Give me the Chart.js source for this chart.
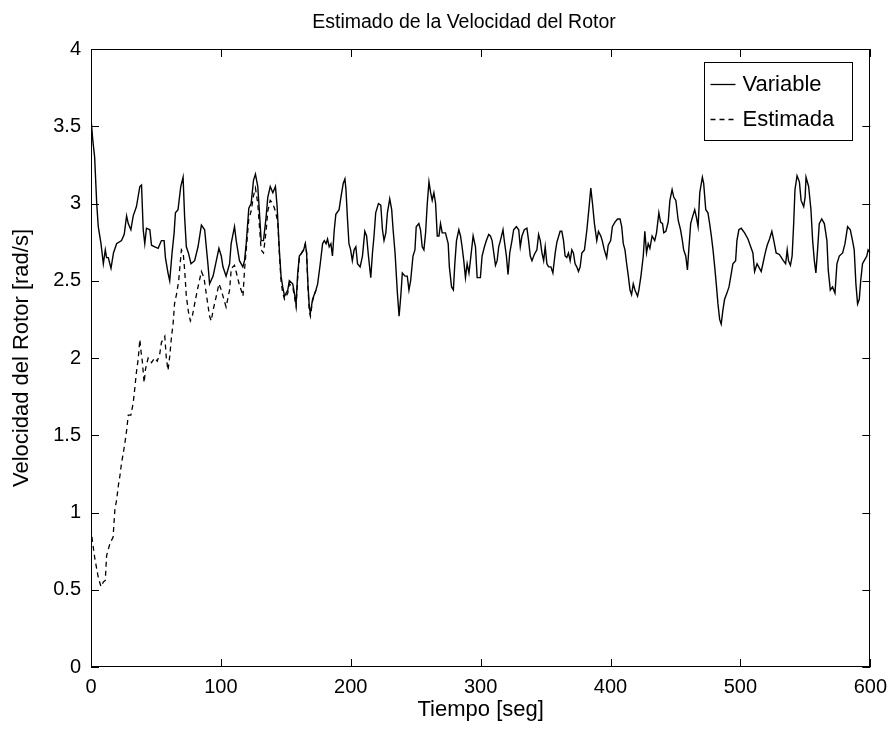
<!DOCTYPE html>
<html>
<head>
<meta charset="utf-8">
<script src="https://cdn.jsdelivr.net/npm/chart.js@4.4.1/dist/chart.umd.min.js"></script>
<style>
  html, body { margin: 0; padding: 0; background: #ffffff; }
  #wrap { width: 895px; height: 735px; }
</style>
</head>
<body>
<div id="wrap"><canvas id="c" width="895" height="735"></canvas></div>
<script>
// ---------- DATA ----------
const chartTitle = 'Estimado de la Velocidad del Rotor';
const xAxisTitle = 'Tiempo [seg]';
const yAxisTitle = 'Velocidad del Rotor [rad/s]';
const seriesNames = ['Variable', 'Estimada'];

const xTicks = [0, 100, 200, 300, 400, 500, 600];
const yTicks = [0, 0.5, 1, 1.5, 2, 2.5, 3, 3.5, 4];

const timeVariable = [
  0, 1.5, 2.8, 4.4, 5.6, 7.7, 9.5, 11, 12, 13.3, 15.4, 17.3, 19.7, 23.5, 25.6, 27.4, 28.7, 30.7, 32.5, 35,
  37.6, 38.9, 40.2, 41.4, 42.7, 45.3, 46.6, 49.1, 51.7, 54.2, 56.3, 57.3, 59.3, 60.6, 62.4, 64, 65, 67, 69.1, 70.9,
  72.1, 73.4, 75, 77, 79.8, 82.4, 85, 87.5, 90, 91.3, 94, 96.5, 98.5, 100.3, 101.6, 104, 106.7, 107.9, 110.5, 111.8,
  114.3, 116.9, 118.2, 119.5, 121.5, 123.3, 125.1, 126.6, 128.4, 129.7, 131, 132.8, 134.8, 136.1, 138, 140, 142, 143.3, 145, 146.3,
  147.6, 149, 151.5, 152.7, 155.3, 156.6, 157.9, 159, 160.4, 162.2, 163.7, 165, 166, 167, 168.1, 168.9, 170.6, 173.2, 174.5, 176.5,
  178.3, 179.6, 181, 182.1, 183.4, 184.7, 185.9, 187.3, 188.5, 191, 192.4, 194.2, 195.5, 196.3, 197.4, 198.6, 199.9, 201.2, 202.6, 203.9,
  205.2, 207.2, 209, 210.8, 212.2, 213.6, 215.4, 216.7, 217.9, 219.2, 221.3, 223.1, 224.4, 225.6, 227, 228.2, 230, 231.5, 232.6, 234.1,
  235.9, 237.2, 238.5, 239.7, 241.8, 243.5, 244.8, 246.1, 247.9, 249.4, 250.4, 252.4, 253.7, 255, 256.3, 257.6, 258.9, 260.2, 261.5, 262.7,
  264, 265.3, 266.6, 267.9, 269.1, 270.4, 272.9, 275, 275.9, 277.6, 279, 280.1, 281.4, 283.2, 284.5, 285.7, 287, 288.3, 289.6, 291,
  292.1, 294.2, 296, 297.3, 299.8, 301.1, 302.9, 304.4, 306.2, 307.5, 308.8, 310.1, 311.4, 312.7, 313.9, 315.2, 317.2, 318.2, 319.8, 321.1,
  322.4, 324.1, 325.4, 327.5, 329.3, 330.5, 331.8, 333.6, 335.6, 336.9, 338.2, 339.5, 341.3, 343.3, 344.6, 345.9, 347.2, 348.5, 349.7, 351,
  352.3, 354.1, 355.6, 357.4, 358.7, 361.2, 362.5, 363.8, 365, 366.3, 367.6, 368.9, 370.2, 371.4, 372.7, 374, 375.3, 376.6, 377.9, 379.9,
  381.8, 383.5, 384.8, 386.1, 387.6, 389.4, 390.7, 392.5, 393.6, 395.2, 397, 398.2, 400.1, 401.4, 403.4, 405.4, 407.3, 408.6, 409.8, 411.1,
  412.4, 413.7, 415, 416.2, 417.5, 418.8, 420.8, 421.8, 423.4, 425.2, 426.4, 427.7, 429, 430.3, 432, 434, 435.4, 437.2, 438.5, 440,
  441, 442.6, 444.4, 445.7, 447.4, 448.7, 450.3, 452.1, 453.9, 455.3, 456.3, 457.9, 459.2, 460.4, 461.7, 463, 464.8, 466.1, 467.4, 468.7,
  470.7, 471.7, 473.3, 475, 476.3, 477.6, 478.9, 480.2, 481.4, 482.7, 484, 485.2, 486.5, 487.8, 489.6, 491.2, 493, 494.2, 496.3, 497.3,
  498.8, 500.6, 503.2, 505.8, 507.5, 509.6, 510.9, 512.8, 514.7, 516, 517.3, 519.1, 520.6, 522.4, 524.2, 525.7, 527.5, 530, 533, 534.8,
  536, 537, 538.5, 539.8, 541, 542, 543.6, 545.4, 546.7, 548.7, 549.8, 550.5, 552.5, 554.3, 555.6, 556.9, 558.1, 559.4, 560.7, 562.6,
  564.6, 566.6, 567.6, 569.2, 570.9, 572.8, 574.3, 576.1, 578.7, 580.5, 582.5, 584.6, 586.3, 587.6, 588.9, 590.2, 591.5, 592.6, 594, 595.3,
  597.3, 598.3, 600
];
const speedVariable = [
  3.55, 3.40, 3.30, 3.00, 2.85, 2.74, 2.61, 2.70, 2.65, 2.65, 2.58, 2.68, 2.74, 2.76, 2.80, 2.92, 2.87, 2.83, 2.92, 2.98,
  3.11, 3.12, 2.83, 2.74, 2.84, 2.83, 2.73, 2.72, 2.71, 2.76, 2.76, 2.65, 2.55, 2.50, 2.68, 2.81, 2.94, 2.96, 3.11, 3.17,
  2.91, 2.72, 2.68, 2.61, 2.63, 2.72, 2.86, 2.83, 2.61, 2.48, 2.53, 2.63, 2.71, 2.66, 2.59, 2.53, 2.61, 2.74, 2.85, 2.76,
  2.63, 2.59, 2.63, 2.74, 2.97, 3.00, 3.15, 3.19, 3.11, 2.94, 2.76, 2.76, 2.91, 3.04, 3.11, 3.07, 3.11, 2.98, 2.70, 2.53,
  2.46, 2.40, 2.44, 2.50, 2.48, 2.42, 2.35, 2.53, 2.66, 2.68, 2.70, 2.74, 2.68, 2.48, 2.33, 2.29, 2.38, 2.44, 2.48, 2.61,
  2.74, 2.76, 2.74, 2.77, 2.72, 2.74, 2.66, 2.83, 2.93, 2.96, 3.04, 3.13, 3.16, 3.09, 2.91, 2.74, 2.70, 2.63, 2.70, 2.72,
  2.61, 2.59, 2.66, 2.82, 2.79, 2.66, 2.52, 2.68, 2.79, 2.94, 3.00, 2.99, 2.83, 2.76, 2.81, 2.94, 3.03, 2.96, 2.83, 2.68,
  2.42, 2.27, 2.40, 2.55, 2.53, 2.53, 2.44, 2.50, 2.66, 2.70, 2.85, 2.87, 2.83, 2.72, 2.70, 2.81, 3.00, 3.14, 3.07, 3.02,
  3.07, 3.00, 2.79, 2.79, 2.87, 2.81, 2.81, 2.74, 2.59, 2.46, 2.44, 2.61, 2.76, 2.83, 2.79, 2.72, 2.63, 2.52, 2.61, 2.55,
  2.63, 2.79, 2.72, 2.52, 2.52, 2.66, 2.72, 2.76, 2.80, 2.79, 2.76, 2.68, 2.60, 2.63, 2.72, 2.76, 2.83, 2.76, 2.66, 2.54,
  2.68, 2.76, 2.83, 2.85, 2.83, 2.72, 2.79, 2.83, 2.84, 2.76, 2.66, 2.63, 2.67, 2.70, 2.80, 2.76, 2.68, 2.63, 2.72, 2.61,
  2.59, 2.59, 2.55, 2.68, 2.75, 2.82, 2.82, 2.76, 2.66, 2.65, 2.68, 2.63, 2.70, 2.68, 2.61, 2.59, 2.56, 2.59, 2.68, 2.70,
  2.83, 2.98, 3.10, 3.00, 2.87, 2.76, 2.82, 2.79, 2.76, 2.70, 2.65, 2.73, 2.76, 2.85, 2.88, 2.90, 2.90, 2.85, 2.74, 2.70,
  2.61, 2.53, 2.44, 2.41, 2.48, 2.44, 2.40, 2.44, 2.53, 2.66, 2.82, 2.68, 2.74, 2.71, 2.79, 2.76, 2.81, 2.94, 2.88, 2.87,
  2.81, 2.82, 2.88, 3.02, 3.09, 3.04, 3.02, 2.89, 2.83, 2.76, 2.70, 2.66, 2.57, 2.72, 2.87, 2.91, 2.96, 2.91, 2.85, 3.07,
  3.17, 3.13, 2.96, 2.94, 2.87, 2.79, 2.70, 2.59, 2.48, 2.35, 2.25, 2.22, 2.31, 2.38, 2.42, 2.46, 2.55, 2.61, 2.63, 2.76,
  2.83, 2.84, 2.81, 2.77, 2.73, 2.68, 2.56, 2.61, 2.58, 2.56, 2.61, 2.68, 2.73, 2.77, 2.82, 2.76, 2.68, 2.67, 2.63, 2.61,
  2.70, 2.63, 2.60, 2.66, 2.87, 3.09, 3.18, 3.14, 3.02, 2.98, 3.04, 3.17, 3.11, 2.96, 2.76, 2.63, 2.55, 2.70, 2.87, 2.90,
  2.87, 2.76, 2.57, 2.44, 2.46, 2.42, 2.61, 2.66, 2.68, 2.74, 2.85, 2.83, 2.76, 2.70, 2.48, 2.35, 2.38, 2.50, 2.61, 2.63,
  2.66, 2.70, 2.68
];

const timeEstimated = [
  0, 1, 3, 5.6, 7.7, 9.5, 11, 12, 14.6, 17, 18.4, 19.7, 21, 22.3, 23.5, 24.8, 26.1, 27.4, 28.7, 30.7,
  32.5, 33.8, 35, 36.3, 37.6, 38.4, 39.5, 40.9, 42, 44, 46.6, 49, 51, 53, 54.2, 56.8, 58, 59.3, 60.6, 62,
  63.2, 64.3, 66, 67.5, 69.6, 71, 72.1, 73.4, 75, 76.5, 78, 80, 82.4, 85, 87, 89, 91.3, 92.6, 94, 97,
  98.5, 100.3, 101.6, 104, 106.7, 108, 110.5, 112, 114.3, 116, 117, 118.2, 119.5, 121.5, 123.3, 125.1, 126.6, 128.4, 129.7, 131,
  132.8, 134.8, 136.1, 138, 140, 142, 143.8, 145, 146.3, 147.6, 149, 151.5, 152.7, 155.3, 156.6, 157.9, 159, 160.4, 162.2, 163.7,
  165, 166, 167, 168.1, 168.9, 170.6, 173.2
];
const speedEstimated = [
  0.90, 0.82, 0.70, 0.58, 0.52, 0.55, 0.56, 0.72, 0.80, 0.84, 1.02, 1.08, 1.17, 1.24, 1.32, 1.38, 1.45, 1.53, 1.63, 1.63,
  1.71, 1.81, 1.91, 1.99, 2.12, 2.05, 1.98, 1.84, 1.93, 2.00, 1.97, 2.00, 1.98, 2.03, 2.10, 2.14, 2.00, 1.92, 2.01, 2.14,
  2.22, 2.35, 2.42, 2.50, 2.70, 2.68, 2.57, 2.40, 2.30, 2.24, 2.27, 2.36, 2.46, 2.56, 2.52, 2.40, 2.27, 2.24, 2.31, 2.42,
  2.48, 2.44, 2.40, 2.33, 2.44, 2.58, 2.60, 2.55, 2.47, 2.43, 2.40, 2.57, 2.70, 2.90, 2.95, 3.05, 3.10, 3.00, 2.85, 2.70,
  2.68, 2.82, 2.95, 3.02, 3.00, 2.95, 2.88, 2.68, 2.50, 2.42, 2.38, 2.42, 2.48, 2.46, 2.40, 2.33, 2.50, 2.65, 2.68, 2.70,
  2.74, 2.68, 2.46, 2.30, 2.27, 2.37, 2.44
];

// ---------- CHART ----------
const FONT = "'Liberation Sans', Arial, Helvetica, sans-serif";

const toPoints = (xs, ys) => xs.map((x, i) => ({ x: x, y: ys[i] }));

const frameAndLegend = {
  id: 'frameAndLegend',
  afterDatasetsDraw(chart) {
    const { ctx, chartArea: a, scales } = chart;
    ctx.save();
    ctx.strokeStyle = '#000';
    ctx.lineWidth = 1;
    ctx.setLineDash([]);
    // axes box
    ctx.strokeRect(Math.round(a.left) + 0.5, Math.round(a.top) + 0.5,
                   Math.round(a.width) - 1, Math.round(a.height) - 1);
    // inward ticks on all four sides
    const tl = 8;
    ctx.beginPath();
    scales.x.ticks.forEach(t => {
      const px = Math.round(scales.x.getPixelForValue(t.value)) + 0.5;
      ctx.moveTo(px, a.bottom); ctx.lineTo(px, a.bottom - tl);
      ctx.moveTo(px, a.top); ctx.lineTo(px, a.top + tl);
    });
    scales.y.ticks.forEach(t => {
      const py = Math.round(scales.y.getPixelForValue(t.value)) + 0.5;
      ctx.moveTo(a.left, py); ctx.lineTo(a.left + tl, py);
      ctx.moveTo(a.right, py); ctx.lineTo(a.right - tl, py);
    });
    ctx.stroke();

    // legend box (inside the axes, top-right)
    const bw = 148, bh = 78;
    const bx = Math.round(a.right - 18 - bw) + 0.5;
    const by = Math.round(a.top + 13) + 0.5;
    ctx.fillStyle = '#fff';
    ctx.fillRect(bx, by, bw, bh);
    ctx.strokeRect(bx, by, bw, bh);
    const rows = [by + 21, by + 56];
    chart.data.datasets.forEach((ds, i) => {
      const y = Math.round(rows[i]) + 0.5;
      ctx.beginPath();
      ctx.lineWidth = 1.3;
      ctx.setLineDash(ds.borderDash || []);
      ctx.moveTo(bx + 6, y);
      ctx.lineTo(bx + 31, y);
      ctx.stroke();
      ctx.setLineDash([]);
      ctx.fillStyle = '#000';
      ctx.font = '22px ' + FONT;
      ctx.textBaseline = 'middle';
      ctx.textAlign = 'left';
      ctx.fillText(ds.label, bx + 38, rows[i] + 1);
    });

    // chart title
    ctx.fillStyle = '#000';
    ctx.font = '19.5px ' + FONT;
    ctx.textAlign = 'center';
    ctx.textBaseline = 'middle';
    ctx.fillText(chartTitle, 464, 23);
    ctx.restore();
  }
};

new Chart(document.getElementById('c'), {
  type: 'line',
  data: {
    datasets: [
      {
        label: seriesNames[0],
        data: toPoints(timeVariable, speedVariable),
        borderColor: '#000',
        borderWidth: 1.4,
        pointRadius: 0,
        tension: 0,
        fill: false
      },
      {
        label: seriesNames[1],
        data: toPoints(timeEstimated, speedEstimated),
        borderColor: '#000',
        borderWidth: 1.3,
        borderDash: [5, 4],
        pointRadius: 0,
        tension: 0,
        fill: false
      }
    ]
  },
  options: {
    responsive: false,
    animation: false,
    events: [],
    layout: { padding: { left: 0, right: 22, top: 49, bottom: 0 } },
    plugins: {
      legend: { display: false },
      tooltip: { enabled: false },
      title: { display: false }
    },
    scales: {
      x: {
        type: 'linear',
        min: xTicks[0],
        max: xTicks[xTicks.length - 1],
        afterBuildTicks(s) { s.ticks = xTicks.map(v => ({ value: v })); },
        afterFit(s) { s.height = 68; },
        ticks: {
          color: '#000',
          font: { family: FONT, size: 20 },
          padding: 8,
          maxRotation: 0,
          autoSkip: false,
          callback: v => String(v)
        },
        grid: { display: false, drawTicks: false },
        border: { display: false },
        title: {
          display: true,
          text: xAxisTitle,
          color: '#000',
          font: { family: FONT, size: 22, lineHeight: 1.2 },
          padding: { top: 0, bottom: 12 }
        }
      },
      y: {
        type: 'linear',
        min: yTicks[0],
        max: yTicks[yTicks.length - 1],
        afterBuildTicks(s) { s.ticks = yTicks.map(v => ({ value: v })); },
        afterFit(s) { s.width = 91; },
        ticks: {
          color: '#000',
          font: { family: FONT, size: 20 },
          padding: 10,
          autoSkip: false,
          callback: v => String(v)
        },
        grid: { display: false, drawTicks: false },
        border: { display: false },
        title: {
          display: true,
          text: yAxisTitle,
          color: '#000',
          font: { family: FONT, size: 22, lineHeight: 1.2 },
          padding: { top: 9, bottom: 0 }
        }
      }
    }
  },
  plugins: [frameAndLegend]
});
</script>
</body>
</html>
